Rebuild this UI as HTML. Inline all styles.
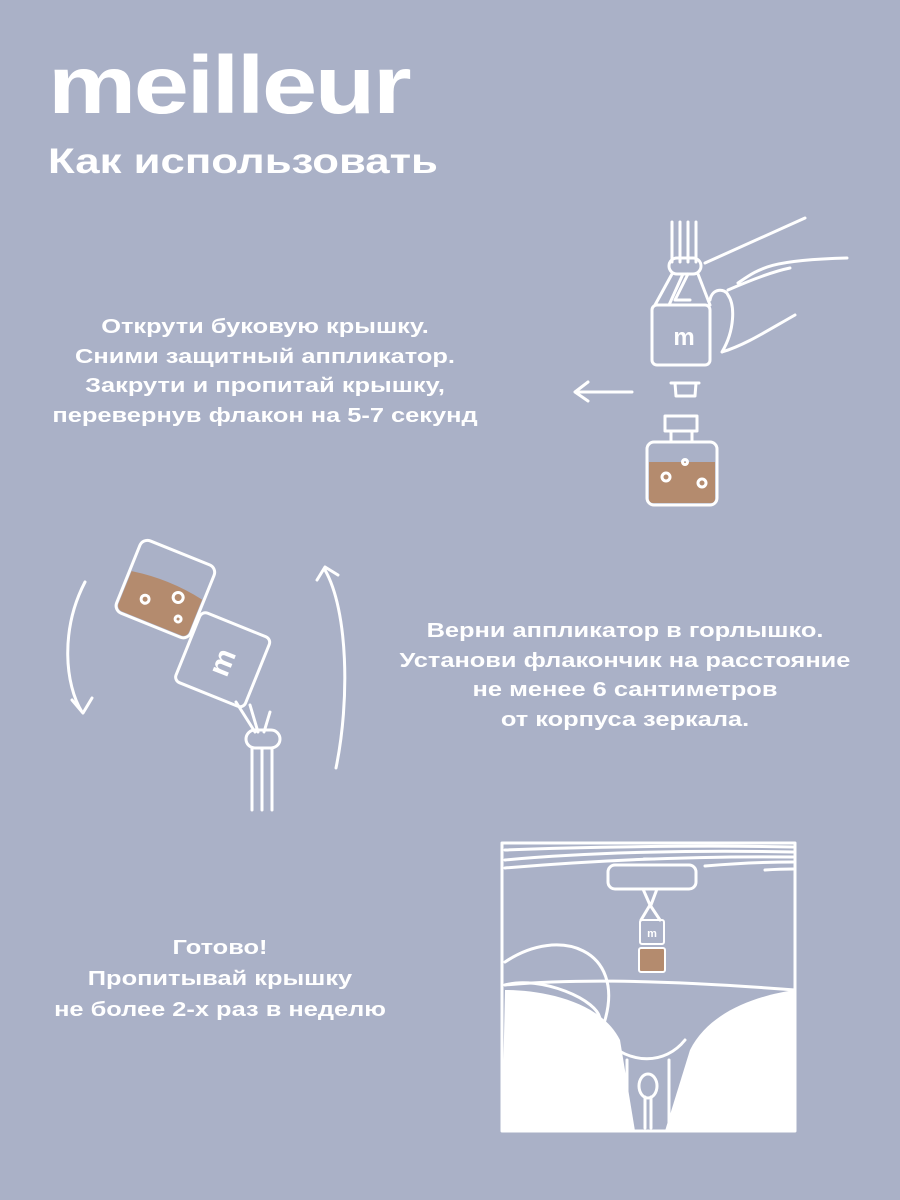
<!DOCTYPE html>
<html><head><meta charset="utf-8"><style>
body{margin:0;width:900px;height:1200px;background:#aab1c7;overflow:hidden;position:relative;font-family:"Liberation Sans","DejaVu Sans",sans-serif;color:#fff}
.t{position:absolute;font-weight:bold;text-align:center;font-size:20px;line-height:29.7px;white-space:nowrap;transform:scaleX(1.27);transform-origin:center top}
</style></head><body>
<div style="position:absolute;left:48px;top:36px;font-size:82px;font-weight:bold;letter-spacing:-2px;line-height:100px;transform:scaleX(1.21);transform-origin:left top">meilleur</div>
<div style="position:absolute;left:48px;top:140px;font-size:35px;font-weight:bold;line-height:44px;transform:scaleX(1.25);transform-origin:left top">Как использовать</div>
<div class="t" style="left:0;width:530px;top:313px">Открути буковую крышку.<br>Сними защитный аппликатор.<br>Закрути и пропитай крышку,<br>перевернув флакон на 5-7 секунд</div>
<div class="t" style="left:365px;width:520px;top:617px">Верни аппликатор в горлышко.<br>Установи флакончик на расстояние<br>не менее 6 сантиметров<br>от корпуса зеркала.</div>
<div class="t" style="left:0;width:440px;top:933px;line-height:31px">Готово!<br>Пропитывай крышку<br>не более 2-х раз в неделю</div>
<svg width="900" height="1200" style="position:absolute;left:0;top:0" fill="none" stroke="#fff" stroke-width="3" stroke-linecap="round" stroke-linejoin="round">
<path d="M672 222V262M680 222V262M688 222V262M696 222V262"/>
<rect x="669" y="258" width="32" height="16" rx="8"/>
<path d="M672 274L655 305M683 274L669 305M698 274L710 305M688 274L675 300L690 300"/>
<rect x="652" y="305" width="58" height="60" rx="5"/>
<text x="684" y="345" fill="#fff" stroke="none" font-size="24" font-weight="bold" text-anchor="middle" font-family="Liberation Sans,sans-serif">m</text>
<path d="M705 263L805 218M710 300C712 288 725 288 728 295C735 305 735 330 722 352M738 283C760 268 770 260 847 258M728 290C760 276 780 270 790 268M722 352C745 345 765 332 795 315"/>
<path d="M632 392L575 392M588 382L575 392L588 401"/>
<path d="M671 383H699M675 383L676 396H695L696 383"/>
<rect x="665" y="416" width="32" height="15"/>
<rect x="671" y="431" width="21" height="11"/>
<rect x="647" y="442" width="70" height="63" rx="7"/>
<path d="M649 462H715V499a4 4 0 0 1-4 4H653a4 4 0 0 1-4-4Z" fill="#b48b6e" stroke="none"/>
<circle cx="666" cy="477" r="4"/><circle cx="702" cy="483" r="4"/><circle cx="685" cy="462" r="2.5"/>
<g transform="rotate(22 165 590)">
<rect x="125" y="550" width="80" height="78" rx="8"/>
<path d="M127 585Q165 578 203 585V620a6 6 0 0 1-6 6H133a6 6 0 0 1-6-6Z" fill="#b48b6e" stroke="none"/>
<circle cx="150" cy="606" r="4"/><circle cx="180" cy="592" r="5"/><circle cx="188" cy="612" r="3"/>
</g>
<g transform="rotate(22 222 660)">
<rect x="185" y="622" width="75" height="75" rx="6"/>
<text x="222" y="673" fill="#fff" stroke="none" font-size="30" font-weight="bold" text-anchor="middle" font-family="Liberation Sans,sans-serif" transform="rotate(-90 222 662)">m</text>
</g>
<path d="M250 705L258 732M236 702L255 732M270 712L264 732"/>
<rect x="246" y="730" width="34" height="18" rx="9"/>
<path d="M252 748V810M262 748V810M272 748V810"/>
<path d="M85 582C60 630 65 685 82 712M72 700L83 713L92 698"/>
<path d="M325 570C348 610 350 700 336 768M317 580L325 567L338 575"/>
<rect x="502" y="843" width="293" height="288"/>
<path d="M505 850C580 847 700 845 793 847M505 860C590 852 700 850 793 852M505 868C600 860 700 856 793 857M705 866C740 863 770 862 793 862M765 870C780 869 793 869 793 869"/>
<rect x="608" y="865" width="88" height="24" rx="7"/>
<path d="M644 859H654"/>
<path d="M643 889L650 905M657 889L651 905M650 905L641 920M650 905L660 920"/>
<rect x="640" y="920" width="24" height="24" rx="2" stroke-width="2"/>
<text x="652" y="937" fill="#fff" stroke="none" font-size="11" font-weight="bold" text-anchor="middle">m</text>
<rect x="639" y="948" width="26" height="24" rx="2" stroke-width="2" fill="#b48b6e"/>
<path d="M505 985C560 980 640 978 795 990"/>
<path d="M505 990L502 1131H635L620 1040C600 1000 540 990 505 990Z" fill="#fff" stroke="none"/>
<path d="M795 990L795 1131H665L690 1050C710 1010 760 995 795 990Z" fill="#fff" stroke="none"/>
<path d="M505 962C560 925 625 950 605 1020C595 1050 585 1060 575 1062"/>
<path d="M505 985C540 975 600 1000 600 1020"/>
<path d="M627 1060V1127M669 1060V1127M605 1040C630 1065 665 1065 685 1040"/>
<ellipse cx="648" cy="1086" rx="9" ry="12"/>
<path d="M645 1097V1128M651 1097V1128"/>
</svg>
</body></html>
